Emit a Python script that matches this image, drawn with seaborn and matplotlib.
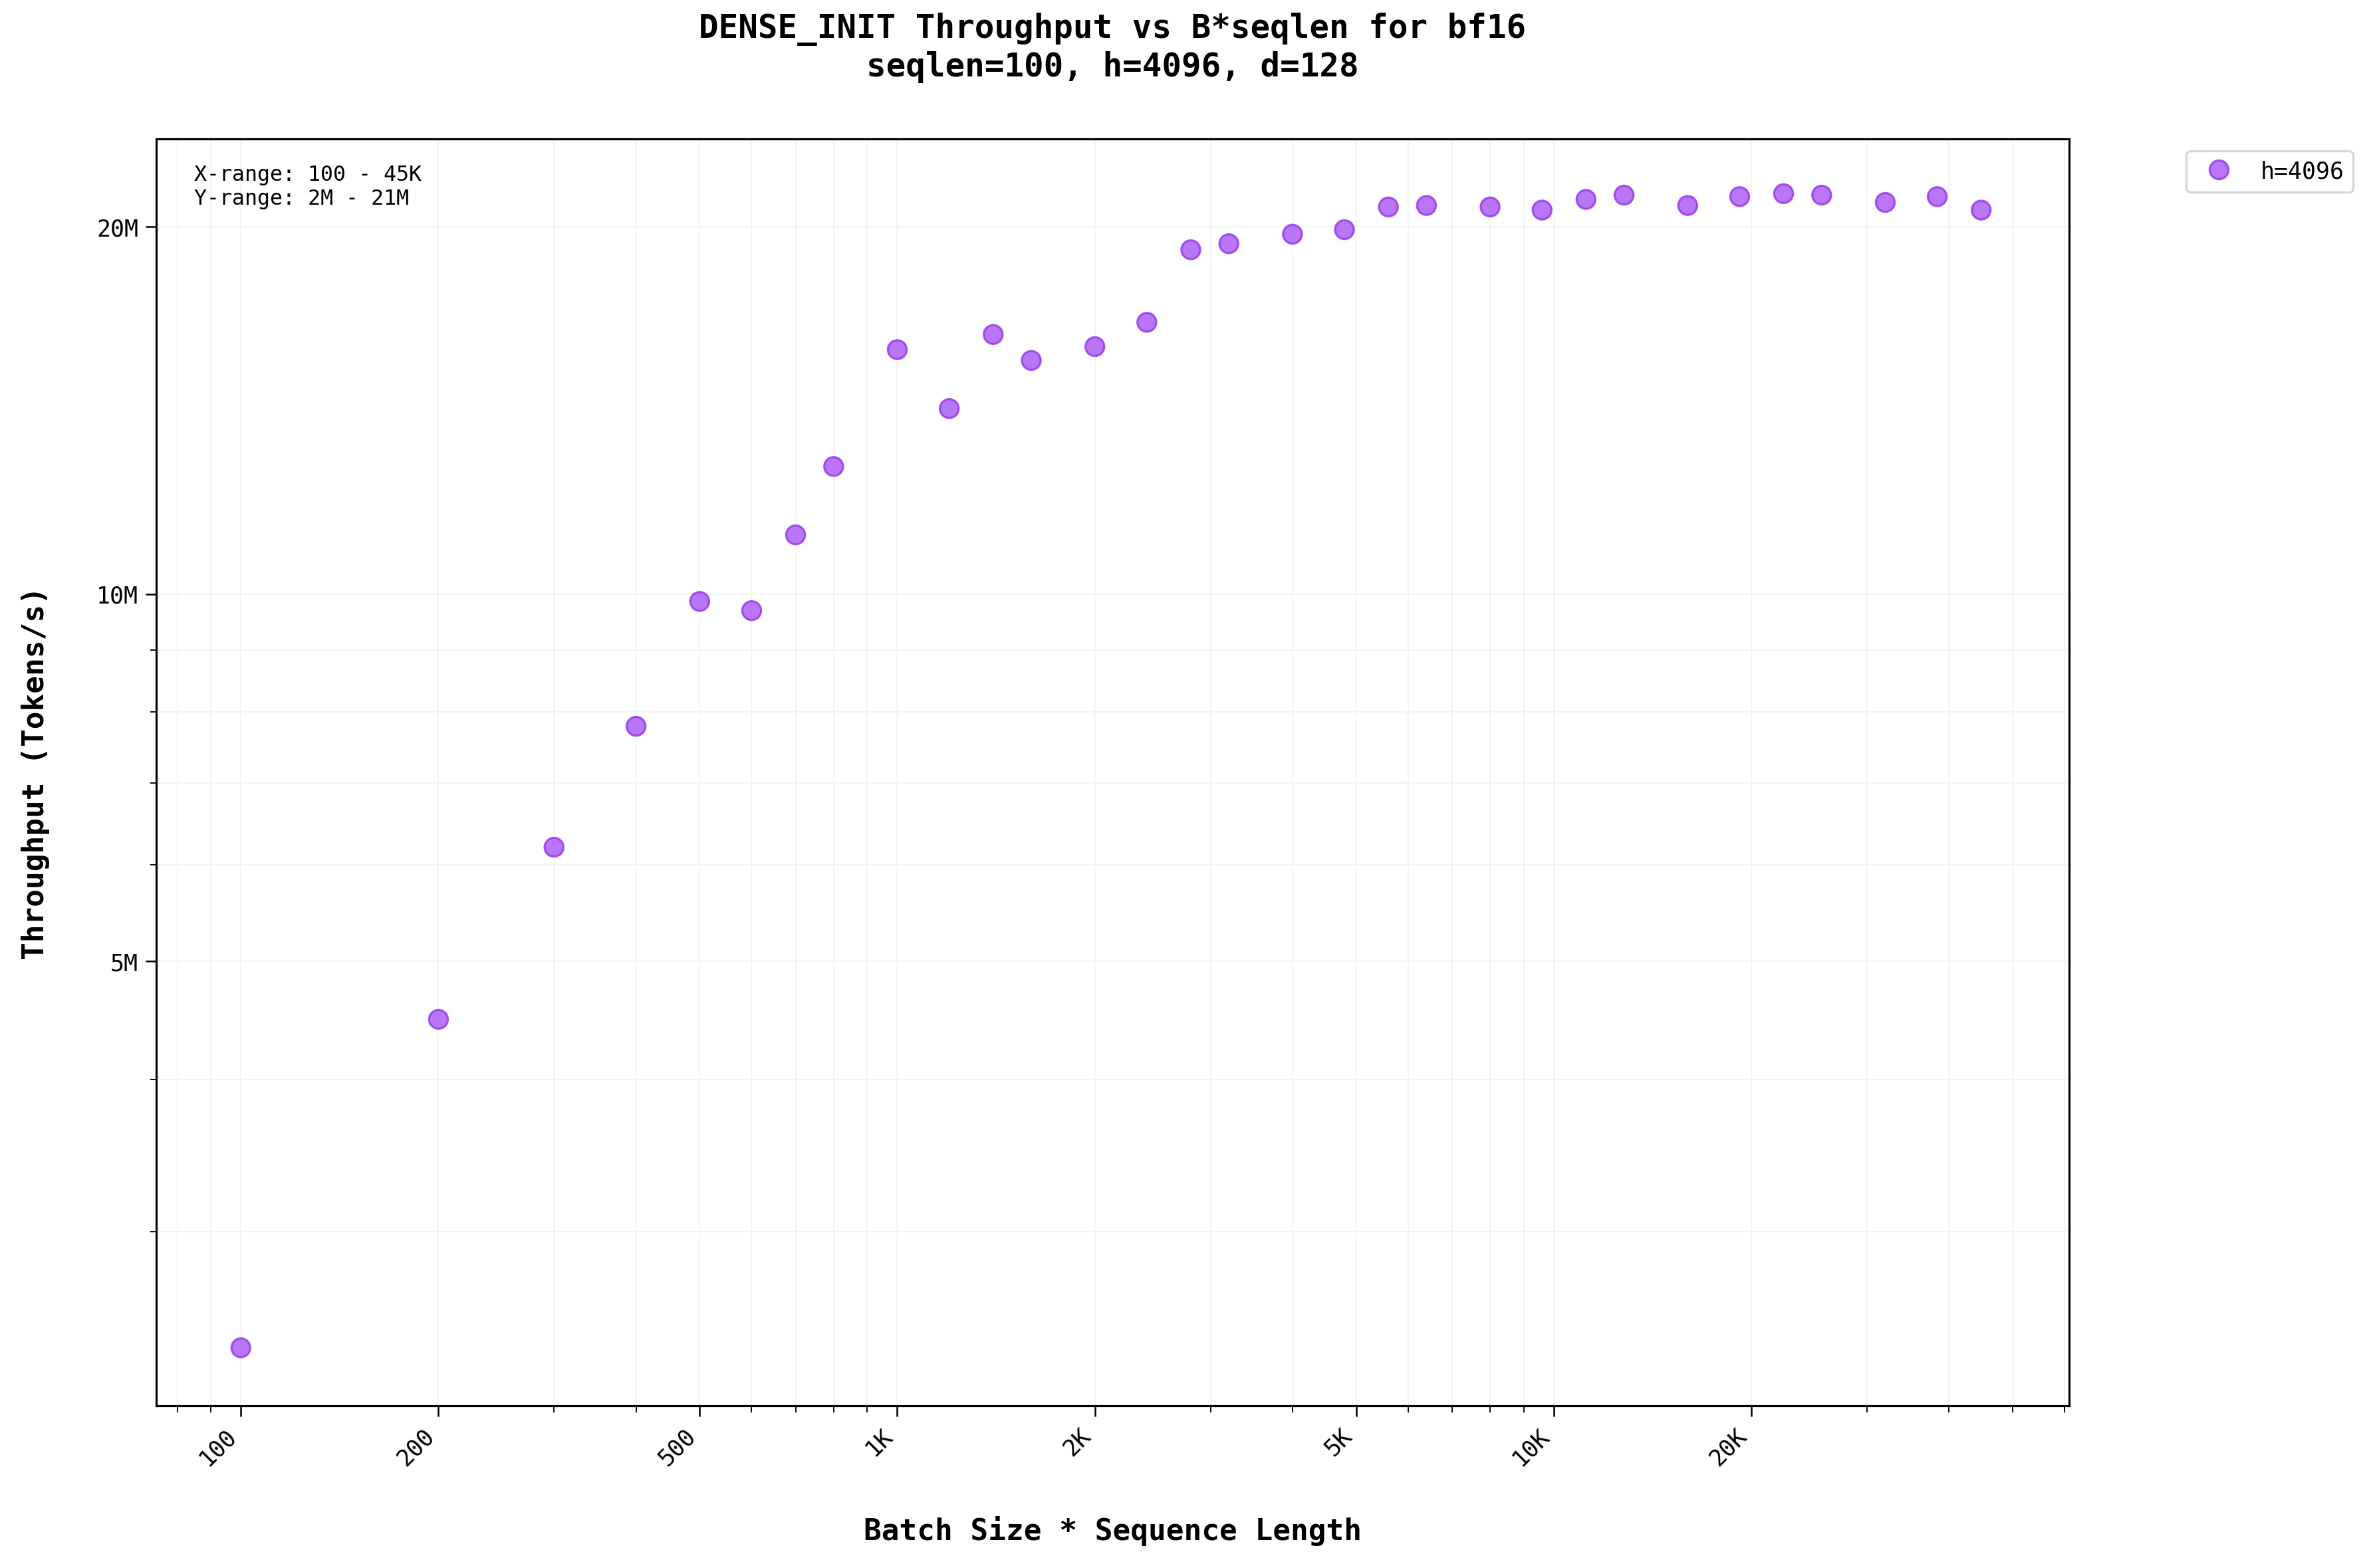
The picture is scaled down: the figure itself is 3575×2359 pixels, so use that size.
import matplotlib
matplotlib.use("Agg")
import matplotlib.pyplot as plt
import matplotlib.ticker as mt
import seaborn as sns
import pandas as pd

x_vals = [100,200,300,400,500,600,700,800,1000,1200,1400,1600,2000,2400,2800,3200,4000,4800,
          5600,6400,8000,9600,11200,12800,16000,19200,22400,25600,32000,38400,44800]
y_vals_m = [2.41,4.48,6.20,7.79,9.86,9.69,11.18,12.72,15.86,14.19,16.32,15.54,15.95,16.70,19.15,19.37,
            19.72,19.89,20.76,20.82,20.76,20.64,21.06,21.23,20.82,21.17,21.29,21.23,20.94,21.17,20.64]
series = ["h=4096"] * len(x_vals)
df = pd.DataFrame({"x": x_vals, "y": [v*1e6 for v in y_vals_m], "s": series})

sns.set_style("white")
plt.rcParams['font.family'] = ['DejaVu Sans Mono']
for k in ["text.color", "axes.labelcolor", "xtick.color", "ytick.color"]:
    plt.rcParams[k] = "black"
fig = plt.figure(figsize=(15.68, 10.35), dpi=228)
ax = fig.add_axes([0.0657, 0.1034, 0.8048, 0.8076])
sns.scatterplot(data=df, x="x", y="y", hue="s", palette=["#a855f7"], s=80, alpha=0.8,
                edgecolor="#9333ea", linewidth=1, ax=ax)
ax.set_xscale("log"); ax.set_yscale("log")
ax.set_xlim(74.3, 61000); ax.set_ylim(2.16e6, 23.6e6)
def fmt(v, p):
    if v >= 1e6: return f"{v/1e6:g}M"
    if v >= 1e3: return f"{v/1e3:g}K"
    return f"{v:g}"
ax.xaxis.set_major_locator(mt.FixedLocator([100,200,500,1000,2000,5000,10000,20000]))
ax.xaxis.set_major_formatter(mt.FuncFormatter(fmt))
ax.yaxis.set_major_locator(mt.FixedLocator([5e6,10e6,20e6]))
ax.yaxis.set_major_formatter(mt.FuncFormatter(fmt))
ax.yaxis.set_minor_formatter(mt.NullFormatter())
ax.xaxis.set_minor_formatter(mt.NullFormatter())
ax.tick_params(which="both", direction="out", bottom=True, left=True)
ax.tick_params(which="major", length=5, labelsize=11)
ax.tick_params(which="minor", length=3)
plt.setp(ax.get_xticklabels(), rotation=45, ha="right")
ax.grid(True, which="both", color="#f3f3f3", linewidth=0.6)
for sp in ax.spines.values():
    sp.set_color("black"); sp.set_linewidth(1)
ax.set_xlabel("Batch Size * Sequence Length", fontsize=14, fontweight="bold", labelpad=22)
ax.set_ylabel("Throughput (Tokens/s)", fontsize=14, fontweight="bold", labelpad=22)
ax.set_title("DENSE_INIT Throughput vs B*seqlen for bf16\nseqlen=100, h=4096, d=128",
             fontsize=15.5, fontweight="bold", pad=30)
ax.text(0.02, 0.98, "X-range: 100 - 45K\nY-range: 2M - 21M", transform=ax.transAxes,
        va="top", ha="left", fontsize=10)
ax.legend(loc="upper left", bbox_to_anchor=(1.055, 1.0), fontsize=11, title=None)
fig.savefig("out.png", dpi=228)
